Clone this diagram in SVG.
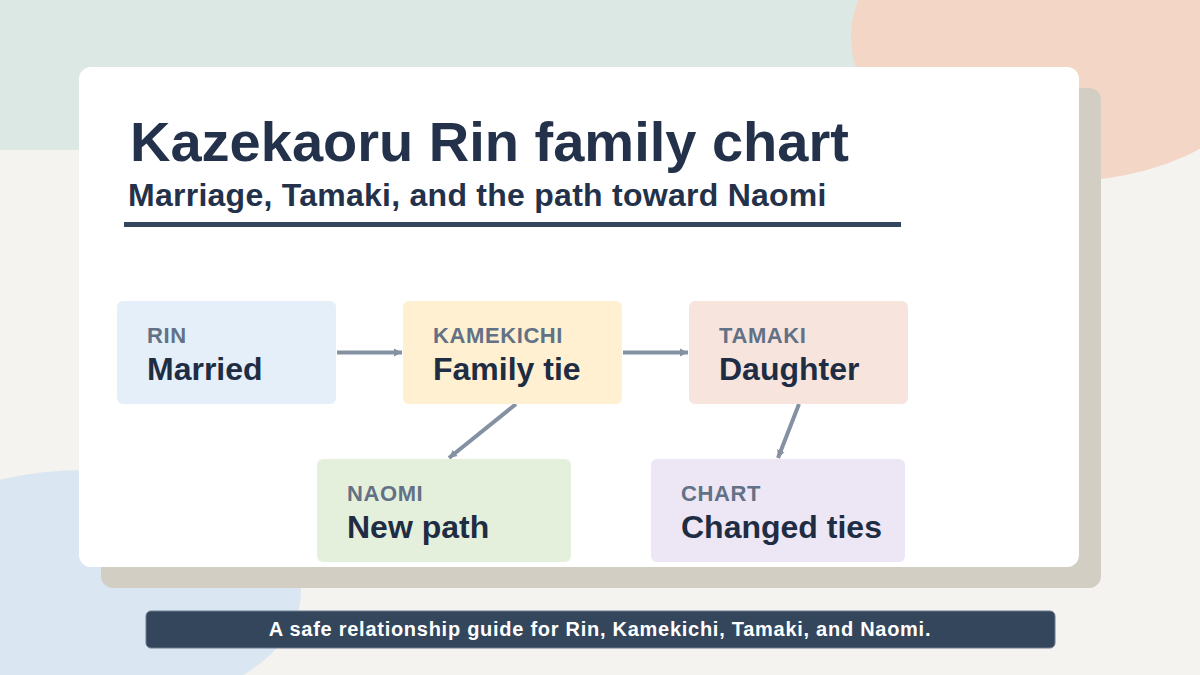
<svg xmlns="http://www.w3.org/2000/svg" width="1200" height="675" viewBox="0 0 1200 675">
  <defs>
    <style>
      .title { font-family: "Liberation Sans", Arial, sans-serif; font-weight: bold; fill: #23324A; }
      .tag { font-family: "Liberation Sans", Arial, sans-serif; font-weight: bold; font-size: 22px; letter-spacing: 0.6px; fill: #637186; }
      .main { font-family: "Liberation Sans", Arial, sans-serif; font-weight: bold; font-size: 32px; fill: #1F2D44; }
      .edge { stroke: #8491A2; stroke-width: 4; fill: none; marker-end: url(#arrow); }
      .box { stroke: none; }
    </style>
    <marker id="arrow" markerUnits="userSpaceOnUse" markerWidth="9" markerHeight="9" refX="8" refY="4.5" orient="auto">
      <path d="M0,0.5 L8,4.5 L0,8.5 z" fill="#8491A2"/>
    </marker>
  </defs>

  <!-- background -->
  <rect x="0" y="0" width="1200" height="675" fill="#F5F3EF"/>
  <rect x="0" y="0" width="880" height="150" fill="#DCE8E3"/>
  <ellipse cx="1065" cy="37" rx="214" ry="144" fill="#F4D6C6"/>
  <ellipse cx="85" cy="592" rx="216" ry="122" fill="#DAE7F2"/>

  <!-- card -->
  <rect x="101" y="88" width="1000" height="500" rx="12" fill="#D3CEC3"/>
  <rect x="79" y="67" width="1000" height="500" rx="12" fill="#FFFFFF"/>

  <!-- heading -->
  <text class="title" x="130" y="161" font-size="56">Kazekaoru Rin family chart</text>
  <text class="title" x="128" y="206" font-size="32" letter-spacing="0.26">Marriage, Tamaki, and the path toward Naomi</text>
  <rect x="124" y="222" width="777" height="5" fill="#34465B"/>

  <!-- connectors -->
  <g id="connectors">
    <line class="edge" x1="337" y1="352.5" x2="402" y2="352.5"/>
    <line class="edge" x1="623" y1="352.5" x2="688" y2="352.5"/>
    <line class="edge" x1="516" y1="404" x2="449" y2="458"/>
    <line class="edge" x1="799" y1="404" x2="778" y2="458"/>
  </g>

  <!-- nodes -->
  <g id="node-rin">
    <rect class="box" x="117" y="301" width="219" height="103" rx="6" fill="#E4EFF9"/>
    <text class="tag" x="147" y="343">RIN</text>
    <text class="main" x="147" y="380">Married</text>
  </g>
  <g id="node-kamekichi">
    <rect class="box" x="403" y="301" width="219" height="103" rx="6" fill="#FEF0D0"/>
    <text class="tag" x="433" y="343">KAMEKICHI</text>
    <text class="main" x="433" y="380">Family tie</text>
  </g>
  <g id="node-tamaki">
    <rect class="box" x="689" y="301" width="219" height="103" rx="6" fill="#F7E4DC"/>
    <text class="tag" x="719" y="343">TAMAKI</text>
    <text class="main" x="719" y="380">Daughter</text>
  </g>
  <g id="node-naomi">
    <rect class="box" x="317" y="459" width="254" height="103" rx="6" fill="#E5F0DC"/>
    <text class="tag" x="347" y="501">NAOMI</text>
    <text class="main" x="347" y="538">New path</text>
  </g>
  <g id="node-chart">
    <rect class="box" x="651" y="459" width="254" height="103" rx="6" fill="#ECE6F5"/>
    <text class="tag" x="681" y="501">CHART</text>
    <text class="main" x="681" y="538">Changed ties</text>
  </g>

  <!-- footer banner -->
  <g id="footer">
    <rect x="146" y="611" width="909" height="37" rx="5" fill="#33465C" stroke="#6E7B8B" stroke-width="1"/>
    <text x="600" y="636" text-anchor="middle" font-family="'Liberation Sans', Arial, sans-serif" font-weight="bold" font-size="20" letter-spacing="0.73" fill="#FFFFFF">A safe relationship guide for Rin, Kamekichi, Tamaki, and Naomi.</text>
  </g>
</svg>
